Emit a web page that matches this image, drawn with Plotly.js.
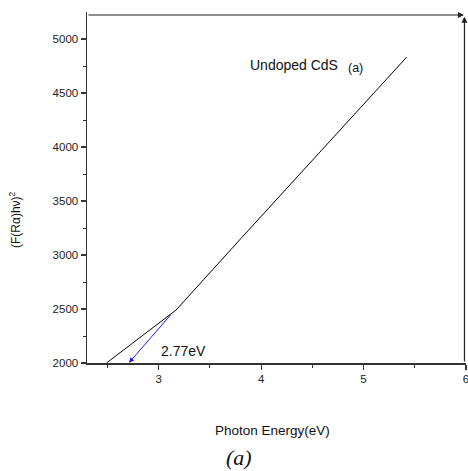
<!DOCTYPE html>
<html><head><meta charset="utf-8">
<script src="https://cdn.plot.ly/plotly-3.0.1.min.js"></script>
<style>html,body{margin:0;padding:0;background:#fff}#plot{width:468px;height:471px}</style>
</head><body><div id="plot"></div>
<script>
const photonEnergy = [2.49, 3.17, 3.80, 5.42];
const transformed = [2000, 2491, 3150, 4831];
const fitStart = [3.13, 2460];
const bandGap = [2.71, 2003];
const bandGapLabel = "2.77eV";
const xTicks = [3, 4, 5, 6];
const yTicks = [2000, 2500, 3000, 3500, 4000, 4500, 5000];

const trace = {
  x: photonEnergy, y: transformed, type: 'scatter', mode: 'lines',
  line: {color: '#000', width: 1}, hoverinfo: 'skip', showlegend: false, cliponaxis: false
};

// plot-area pixel geometry used to place free texts
const L = 87, R = 466, T = 12, B = 363;
const px = v => (v - L) / (R - L);
const py = v => (B - v) / (B - T);

const layout = {
  width: 468, height: 471,
  margin: {l: L, r: 468 - R, t: T, b: 471 - B},
  paper_bgcolor: '#fff', plot_bgcolor: '#fff',
  font: {family: 'Arial, Liberation Sans, sans-serif', color: '#222', size: 11.5},
  xaxis: {
    range: [2.3, 6], tickvals: xTicks, ticktext: xTicks.map(String), ticklabeloverflow: 'allow',
    showgrid: false, zeroline: false, showline: true, linecolor: '#333', linewidth: 1.5,
    ticks: 'outside', ticklen: 5, tickwidth: 1.2, tickcolor: '#333',
    minor: {tickvals: [2.5, 3.5, 4.5, 5.5], ticks: 'outside', ticklen: 3, tickwidth: 1, tickcolor: '#333'}
  },
  yaxis: {
    range: [2000, 5250], tickvals: yTicks, ticktext: yTicks.map(String),
    showgrid: false, zeroline: false, showline: true, linecolor: '#333', linewidth: 1.5,
    ticks: 'outside', ticklen: 5, tickwidth: 1.2, tickcolor: '#333',
    minor: {tickvals: [2250, 2750, 3250, 3750, 4250, 4750], ticks: 'outside', ticklen: 3, tickwidth: 1, tickcolor: '#333'}
  },
  annotations: [
    {x: 5.98, y: 5222, ax: 2.3, ay: 5222, axref: 'x', ayref: 'y', xref: 'x', yref: 'y',
     showarrow: true, arrowhead: 2, arrowsize: 1, arrowwidth: 1.2, arrowcolor: '#222', text: ''},
    {x: 5.985, y: 5205, ax: 5.985, ay: 2000, axref: 'x', ayref: 'y', xref: 'x', yref: 'y',
     showarrow: true, arrowhead: 2, arrowsize: 1, arrowwidth: 1.2, arrowcolor: '#222', text: ''},
    {x: bandGap[0], y: bandGap[1], ax: fitStart[0], ay: fitStart[1], axref: 'x', ayref: 'y', xref: 'x', yref: 'y',
     showarrow: true, arrowhead: 2, arrowsize: 1, arrowwidth: 1, arrowcolor: '#1a1aff', text: ''},
    {x: 3.0, y: 2110, xref: 'x', yref: 'y', text: bandGapLabel, showarrow: false, xanchor: 'left', yanchor: 'middle',
     font: {size: 14, color: '#111'}},
    {x: 3.87, y: 4759, xref: 'x', yref: 'y', text: 'Undoped CdS', showarrow: false, xanchor: 'left', yanchor: 'middle',
     font: {size: 14, color: '#111'}},
    {x: 4.83, y: 4735, xref: 'x', yref: 'y', text: '(a)', showarrow: false, xanchor: 'left', yanchor: 'middle',
     font: {size: 12.5, color: '#111'}},
    {x: px(272), y: py(430), xref: 'paper', yref: 'paper', text: 'Photon Energy(eV)', showarrow: false,
     xanchor: 'center', yanchor: 'middle', font: {size: 13.5, color: '#111'}},
    {x: px(15), y: py(220), xref: 'paper', yref: 'paper', text: '(F(R\u03b1)h\u03bd)<sup>2</sup>', showarrow: false,
     xanchor: 'center', yanchor: 'middle', textangle: -90, font: {size: 12, color: '#111'}},
    {x: px(239), y: py(457), xref: 'paper', yref: 'paper', text: '<i>(a)</i>', showarrow: false,
     xanchor: 'center', yanchor: 'middle', font: {family: 'Liberation Serif, Times New Roman, serif', size: 22, color: '#111'}}
  ]
};
Plotly.newPlot('plot', [trace], layout, {displayModeBar: false, staticPlot: true});
</script></body></html>
